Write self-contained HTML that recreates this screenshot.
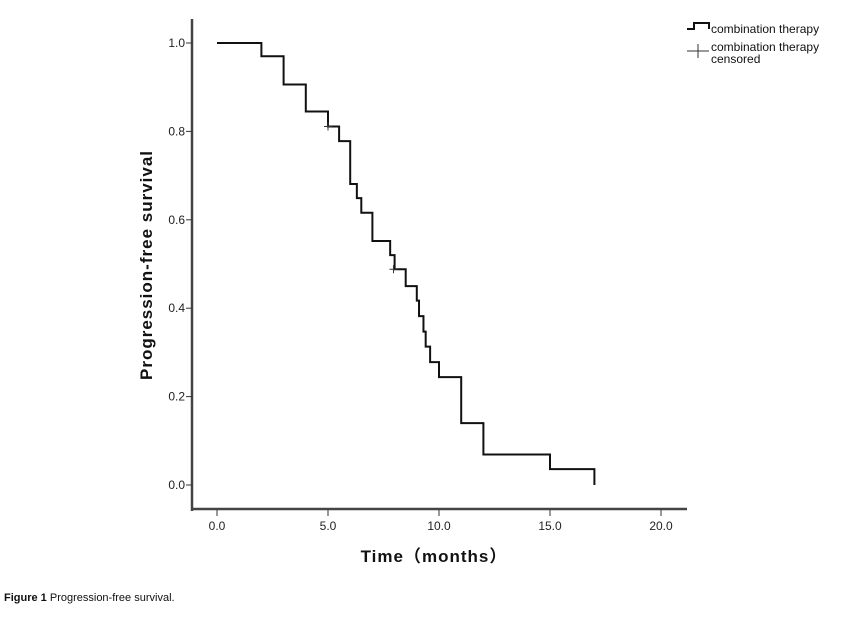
<!DOCTYPE html>
<html><head><meta charset="utf-8"><style>
body{margin:0;background:#fff;width:844px;height:612px;overflow:hidden;font-family:"Liberation Sans","Noto Sans CJK SC",sans-serif}
svg text{font-family:"Liberation Sans","Noto Sans CJK SC",sans-serif}
</style></head><body>
<svg id="chart" width="844" height="612" xmlns="http://www.w3.org/2000/svg">
<g id="axes"></g>
<g id="curve"></g>
<text transform="translate(152,265) rotate(-90)" text-anchor="middle" font-size="17" font-weight="bold" letter-spacing="1" fill="#111">Progression-free survival</text>
<text x="434" y="562" text-anchor="middle" font-size="17" font-weight="bold" letter-spacing="1" fill="#111">Time（months）</text>
<g>
<path d="M687,29 H694 V23 H709 V29" fill="none" stroke="#111" stroke-width="2"/>
<text x="711" y="33" font-size="12" fill="#111">combination therapy</text>
<line x1="687" y1="51" x2="709" y2="51" stroke="#333" stroke-width="1"/>
<line x1="698" y1="44" x2="698" y2="58" stroke="#333" stroke-width="1"/>
<text x="711" y="51" font-size="12" fill="#111">combination therapy</text>
<text x="711" y="63" font-size="12" fill="#111">censored</text>
</g>
<text x="4" y="601" font-size="11" fill="#111"><tspan font-weight="bold">Figure 1</tspan> Progression-free survival.</text>
</svg>
<script>
const times=[0,2,3,4,5,5.5,6,6.3,6.5,7,7.8,8,8.5,9,9.1,9.3,9.4,9.6,10,11,12,15,17];
const survival=[1.0,0.970,0.906,0.845,0.811,0.778,0.681,0.649,0.616,0.552,0.520,0.488,0.450,0.417,0.382,0.347,0.313,0.278,0.244,0.140,0.069,0.036,0.0];
const censorTimes=[5.0,7.95];
const censorSurv=[0.811,0.488];
const xTicks=[0,5,10,15,20];
const yTicks=[0,0.2,0.4,0.6,0.8,1.0];
const xTickLabels=["0.0","5.0","10.0","15.0","20.0"];
const yTickLabels=["0.0","0.2","0.4","0.6","0.8","1.0"];
const NS="http://www.w3.org/2000/svg";
const X=t=>217+t*22.2;
const Y=s=>485-s*442;
function mk(tag,attrs,parent){const e=document.createElementNS(NS,tag);for(const k in attrs)e.setAttribute(k,attrs[k]);parent.appendChild(e);return e;}
const ax=document.getElementById('axes');
let a=mk('line',{x1:192,y1:19,x2:192,y2:511,stroke:'#444','stroke-width':2.5},ax);


a=mk('line',{x1:191,y1:509,x2:687,y2:509,stroke:'#444','stroke-width':2.5},ax);


xTicks.forEach((v,i)=>{
 mk('line',{x1:X(v),y1:510,x2:X(v),y2:516,stroke:'#333','stroke-width':1},ax);
 const t=mk('text',{x:X(v),y:530,'text-anchor':'middle','font-size':12,fill:'#222'},ax);
 t.textContent=xTickLabels[i];
 
 
});
yTicks.forEach((v,i)=>{
 mk('line',{x1:186,y1:Y(v),x2:192,y2:Y(v),stroke:'#333','stroke-width':1},ax);
 const t=mk('text',{x:185,y:Y(v)+4,'text-anchor':'end','font-size':12,fill:'#222'},ax);
 t.textContent=yTickLabels[i];
 
 
});
const cg=document.getElementById('curve');
let d='M'+X(times[0])+','+Y(survival[0]);
for(let i=1;i<times.length;i++){d+=' H'+X(times[i])+' V'+Y(survival[i]);}
const p=mk('path',{d:d,fill:'none',stroke:'#111','stroke-width':2},cg);


censorTimes.forEach((t,i)=>{
 const g=mk('path',{d:'M'+(X(t)-4)+','+Y(censorSurv[i])+' h8 M'+X(t)+','+(Y(censorSurv[i])-4)+' v8',stroke:'#333','stroke-width':1,fill:'none'},cg);
 
 
});
</script>
</body></html>
